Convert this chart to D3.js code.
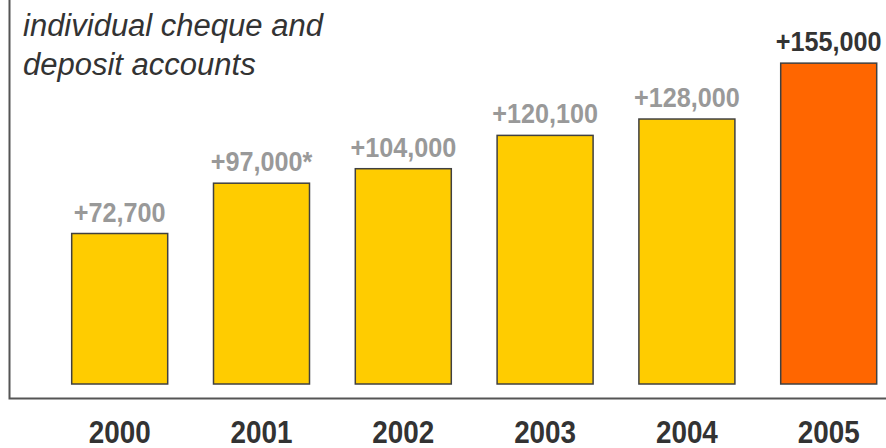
<!DOCTYPE html>
<html>
<head>
<meta charset="utf-8">
<script src="https://cdn.jsdelivr.net/npm/d3@7"></script>
<style>
    body { margin: 0; background: #fff; }
    svg { display: block; }
    .narrow { font-family: "Liberation Sans Narrow", "Arial Narrow", "Liberation Sans", sans-serif; font-weight: bold; }
</style>
</head>
<body>
<script>
// chart data
const years = ["2000", "2001", "2002", "2003", "2004", "2005"];
const accounts = [72700, 97000, 104000, 120100, 128000, 155000];
const valueLabels = ["+72,700", "+97,000*", "+104,000", "+120,100", "+128,000", "+155,000"];
const titleLines = ["individual cheque and", "deposit accounts"];

const width = 886, height = 448;

let svg = d3.select("body").append("svg")
    .attr("width", width)
    .attr("height", height);

// band scale for the years, bars ~96px wide on a ~142px step
let xScale = d3.scaleBand()
    .domain(years)
    .range([71.7, 876.7])
    .paddingInner(0.323)
    .paddingOuter(0);

let yScale = d3.scaleLinear()
    .domain([0, 185500])
    .range([384, 0]);

// frame: left and bottom lines only
svg.append("path")
    .attr("d", "M9.5,0 V398.5 H886")
    .attr("fill", "none")
    .attr("stroke", "#555")
    .attr("stroke-width", 2);

// title
svg.append("text")
    .attr("x", 23)
    .attr("y", 36)
    .style("font-family", "'Liberation Sans', Arial, sans-serif")
    .style("font-style", "italic")
    .style("font-size", "31px")
    .attr("fill", "#333")
    .selectAll("tspan")
    .data(titleLines)
    .join("tspan")
    .attr("x", 23)
    .attr("dy", (d, i) => i === 0 ? 0 : 38.5)
    .text(d => d);

// bars
svg.selectAll("rect.bar")
    .data(accounts)
    .join("rect")
    .attr("class", "bar")
    .attr("x", (d, i) => xScale(years[i]))
    .attr("y", d => yScale(d))
    .attr("width", xScale.bandwidth())
    .attr("height", d => yScale(0) - yScale(d))
    .attr("fill", (d, i) => i === years.length - 1 ? "#ff6600" : "#ffcc00")
    .attr("stroke", "#404040")
    .attr("stroke-width", 1.5);

// value labels above bars (squeezed horizontally, no narrow font installed)
svg.selectAll("text.value")
    .data(accounts)
    .join("text")
    .attr("class", "value narrow")
    .attr("transform", (d, i) => "translate(" + (xScale(years[i]) + xScale.bandwidth() / 2) + "," + (yScale(d) - 12) + ") scale(0.9,1)")
    .attr("text-anchor", "middle")
    .style("font-size", "28px")
    .attr("fill", (d, i) => i === years.length - 1 ? "#333" : "#999")
    .text((d, i) => valueLabels[i]);

// year labels under the frame
svg.selectAll("text.year")
    .data(years)
    .join("text")
    .attr("class", "year narrow")
    .attr("transform", d => "translate(" + (xScale(d) + xScale.bandwidth() / 2) + ",443) scale(0.87,1)")
    .attr("text-anchor", "middle")
    .style("font-size", "32px")
    .attr("fill", "#333")
    .text(d => d);
</script>
</body>
</html>
